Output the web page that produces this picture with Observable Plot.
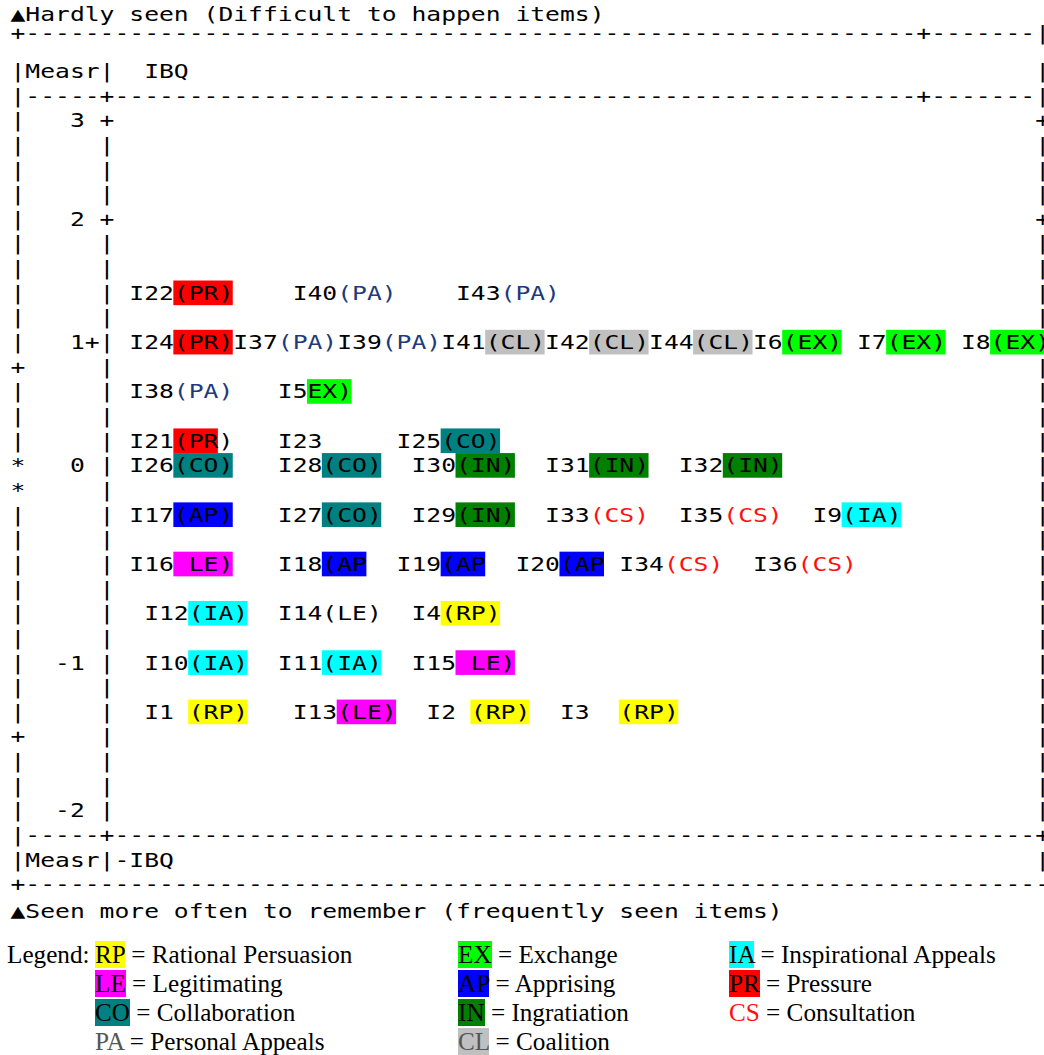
<!DOCTYPE html>
<html>
<head>
<meta charset="utf-8">
<script src="https://cdn.jsdelivr.net/npm/d3@7"></script>
<script src="https://cdn.jsdelivr.net/npm/@observablehq/plot@0.6"></script>
<style>
  html, body { margin: 0; padding: 0; background: #fff; }
  #wrap { position: relative; width: 1044px; height: 1055px; overflow: hidden; background: #fff; }
  #wrap svg text { white-space: pre; }
  #legend { position: absolute; left: 0; top: 0; width: 1044px; font-family: "Liberation Serif", "Times New Roman", serif; font-size: 25.2px; line-height: 29px; color: #000; }
  .lg { position: absolute; white-space: nowrap; height: 29px; }
</style>
</head>
<body>
<div id="wrap"></div>
<script>
// ---------------- data ----------------
const titleTop = "▲Hardly seen (Difficult to happen items)";
const titleBottom = "▲Seen more often to remember (frequently seen items)";
const headerLabel = "Measr";
const facetLabel = "IBQ";
const measureTicks = ["3", "2", "1", "0", "-1", "-2"];

// tactic categories (legend order)
const codes = ["RP", "LE", "CO", "PA", "EX", "AP", "IN", "CL", "IA", "PR", "CS"];
const names = ["Rational Persuasion", "Legitimating", "Collaboration", "Personal Appeals",
               "Exchange", "Apprising", "Ingratiation", "Coalition",
               "Inspirational Appeals", "Pressure", "Consultation"];

// Wright map body rows (ASCII output, one string per line);
// {CODE:text} marks the part of an item label tagged with a tactic category
const mapRows = [
  "|   3 +",
  "|     |",
  "|     |",
  "|     |",
  "|   2 +",
  "|     |",
  "|     |",
  "|     | I22{PR:(PR)}    I40{PA:(PA)}    I43{PA:(PA)}",
  "|     |",
  "|   1+| I24{PR:(PR)}I37{PA:(PA)}I39{PA:(PA)}I41{CL:(CL)}I42{CL:(CL)}I44{CL:(CL)}I6{EX:(EX)} I7{EX:(EX)} I8{EX:(EX)}",
  "+     |",
  "|     | I38{PA:(PA)}   I5{EX:EX)}",
  "|     |",
  "|     | I21{PR:(PR})   I23     I25{CO:(CO)}",
  "*   0 | I26{CO:(CO)}   I28{CO:(CO)}  I30{IN:(IN)}  I31{IN:(IN)}  I32{IN:(IN)}",
  "*     |",
  "|     | I17{AP:(AP)}   I27{CO:(CO)}  I29{IN:(IN)}  I33{CS:(CS)}  I35{CS:(CS)}  I9{IA:(IA)}",
  "|     |",
  "|     | I16{LE: LE)}   I18{AP:(AP}  I19{AP:(AP}  I20{AP:(AP} I34{CS:(CS)}  I36{CS:(CS)}",
  "|     |",
  "|     |  I12{IA:(IA)}  I14(LE)  I4{RP:(RP)}",
  "|     |",
  "|  -1 |  I10{IA:(IA)}  I11{IA:(IA)}  I15{LE: LE)}",
  "|     |",
  "|     |  I1 {RP:(RP)}   I13{LE:(LE)}  I2 {RP:(RP)}  I3  {RP:(RP)}",
  "+     |",
  "|     |",
  "|     |",
  "|  -2 |"
];

// ---------------- styles ----------------
const fillOf = {RP: "#ffff00", LE: "#ff00ff", CO: "#008080", EX: "#00ff00", AP: "#0000ff",
                IN: "#008000", CL: "#c0c0c0", IA: "#00ffff", PR: "#ff0000"};
const mapInk = {PA: "#1c3a7c", CS: "#ff1010"};
const legendInk = {PA: "#555555", CL: "#555555", CS: "#ff1010"};

const CW = 14.85, X0 = 10;     // character cell width, left edge
const LH = 24.65, Y2 = 71;      // line height, centre of line 2
const COLS = 70;

// ---------------- parse ASCII lines ----------------
function parse(raw, line) {
  const segs = [];
  let col = 0, buf = "", start = 0;
  const flush = () => { if (buf.length) segs.push({line, col: start, text: buf, code: null}); buf = ""; };
  for (let i = 0; i < raw.length; i++) {
    const ch = raw[i];
    if (ch === "{") {
      flush();
      const colon = raw.indexOf(":", i), end = raw.indexOf("}", i);
      const code = raw.slice(i + 1, colon), text = raw.slice(colon + 1, end);
      segs.push({line, col, text, code});
      col += text.length; i = end;
    } else {
      if (!buf.length) start = col;
      buf += ch; col++;
    }
  }
  flush();
  return {segs, length: col};
}

const dash = n => "-".repeat(n);
const lines = [];
lines.push({line: 1, raw: "+" + dash(60) + "+" + dash(7) + "|"});
lines.push({line: 2, raw: ("|" + headerLabel + "|  " + facetLabel).padEnd(COLS - 1) + "|"});
lines.push({line: 3, raw: "|-----+" + dash(54) + "+" + dash(7) + "|"});
mapRows.forEach((r, i) => lines.push({line: 4 + i, raw: r, body: true}));
lines.push({line: 33, raw: "|-----+" + dash(62) + "+"});
lines.push({line: 34, raw: ("|" + headerLabel + "|-" + facetLabel).padEnd(COLS - 1) + "|"});
lines.push({line: 35, raw: "+" + dash(COLS - 1)});

let segments = [];
for (const L of lines) {
  const {segs, length} = parse(L.raw, L.line);
  segments.push(...segs);
  if (L.body && length < COLS - 1) {
    segments.push({line: L.line, col: COLS - 1, text: L.raw[6] === "+" ? "+" : "|", code: null});
  }
}
// trim surrounding blanks so each text starts on its own first glyph
function tidy(s) {
  const lead = s.text.length - s.text.replace(/^ +/, "").length;
  return {...s, col: s.col + lead, text: s.text.trim()};
}
const textSegs = segments.map(tidy).filter(s => s.text.length);
const highlights = segments.filter(s => s.code && fillOf[s.code]);
const fillCodes = codes.filter(c => fillOf[c]);

const titleSegs = [{line: 0, col: 0, text: titleTop}];
const bottomSegs = [{line: 36, col: 0, text: titleBottom}];
const border1 = textSegs.filter(s => s.line === 1);
const bodySegs = textSegs.filter(s => s.line !== 1);

const txt = {x: "col", y: "line", text: "text", textAnchor: "start", lineAnchor: "middle",
             fontFamily: "DejaVu Sans Mono", fontSize: 20};
const inkOf = c => mapInk[c] || "#000";

const plot = Plot.plot({
  width: 1044,
  height: 935,
  margin: 0,
  x: {type: "linear", domain: [0, COLS], range: [X0, X0 + COLS * CW], axis: null},
  y: {type: "linear", domain: [2, 35], range: [Y2, Y2 + 33 * LH], axis: null},
  color: {domain: fillCodes, range: fillCodes.map(c => fillOf[c])},
  marks: [
    Plot.rect(highlights, {x1: "col", x2: d => d.col + d.text.length,
                           y1: d => d.line - 0.5, y2: d => d.line + 0.5, fill: "code"}),
    Plot.text(bodySegs.filter(s => inkOf(s.code) === "#000"), {...txt, fill: "#000"}),
    Plot.text(bodySegs.filter(s => s.code === "PA"), {...txt, fill: mapInk.PA}),
    Plot.text(bodySegs.filter(s => s.code === "CS"), {...txt, fill: mapInk.CS}),
    Plot.text(border1, {...txt, fill: "#000", dy: -13}),
    Plot.text(titleSegs, {...txt, fill: "#000", dy: -7.5}),
    Plot.text(bottomSegs, {...txt, fill: "#000", dy: 2})
  ]
});
plot.style.background = "#fff";
plot.style.maxWidth = "none";
// stretch each monospace run so that every character fills one cell
d3.select(plot).selectAll("text").each(function () {
  const n = Array.from(this.textContent).length;
  if (n) {
    this.setAttribute("textLength", (n * CW).toFixed(2));
    this.setAttribute("lengthAdjust", "spacingAndGlyphs");
  }
});

const wrap = document.getElementById("wrap");
wrap.appendChild(plot);

// ---------------- legend ----------------
const legend = document.createElement("div");
legend.id = "legend";
const legTop = 940, legRow = 29, legColX = [95, 458, 729];
const lab = document.createElement("div");
lab.className = "lg";
lab.style.left = "7px"; lab.style.top = legTop + "px";
lab.textContent = "Legend:";
legend.appendChild(lab);
codes.forEach((c, i) => {
  const col = Math.floor(i / 4), row = i % 4;
  const d = document.createElement("div");
  d.className = "lg";
  d.style.left = legColX[col] + "px";
  d.style.top = (legTop + row * legRow) + "px";
  const sp = document.createElement("span");
  sp.textContent = c;
  if (fillOf[c]) sp.style.background = fillOf[c];
  sp.style.color = legendInk[c] || "#000";
  d.appendChild(sp);
  d.appendChild(document.createTextNode(" = " + names[i]));
  legend.appendChild(d);
});
wrap.appendChild(legend);
</script>
</body>
</html>
